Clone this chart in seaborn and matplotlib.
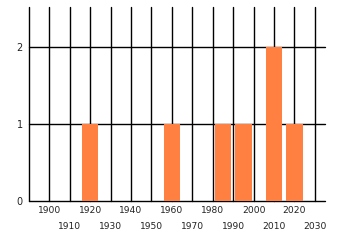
import matplotlib
matplotlib.use("Agg")
import matplotlib.pyplot as plt
import seaborn as sns
import pandas as pd

years = [1920, 1960, 1985, 1995, 2010, 2020]
counts = [1, 1, 1, 1, 2, 1]
upper_ticks = list(range(1900, 2021, 20))
lower_ticks = list(range(1890, 2031, 20))
y_ticks = [0, 1, 2]

sns.set_theme(style="white")
plt.rcParams['font.family'] = ['DejaVu Sans']

df = pd.DataFrame({"year": years, "count": counts})

fig = plt.figure(figsize=(3.4, 2.45), dpi=100)
ax = fig.add_axes([29/340, 1-200.7/245, (325-29)/340, (200.7-7)/245])

sns.barplot(data=df, x="year", y="count", native_scale=True, width=0.8,
            color="#ff8040", saturation=1, ax=ax, zorder=3,
            edgecolor="none", linewidth=0)

ax.set_xlim(1890, 2035)
ax.set_ylim(0, 2.52)
ax.set_xticks(upper_ticks)
ax.set_xticklabels([str(t) for t in upper_ticks])
ax.set_xticks(lower_ticks, minor=True)
ax.set_xticklabels(["" if t == 1890 else str(t) for t in lower_ticks], minor=True)
ax.set_yticks(y_ticks)
ax.set_yticklabels([str(t) for t in y_ticks])

ax.tick_params(axis="x", which="major", length=0, pad=3.5, labelsize=6.6, colors="#222222")
ax.tick_params(axis="x", which="minor", length=0, pad=15, labelsize=6.6, colors="#222222")
ax.tick_params(axis="y", length=0, pad=4.5, labelsize=7, colors="#222222")

ax.grid(True, which="both", axis="x", color="black", linewidth=1.0)
ax.grid(True, which="major", axis="y", color="black", linewidth=1.0)
ax.set_axisbelow(True)
for ln in ax.get_xgridlines() + ax.get_ygridlines() + ax.xaxis.get_minorticklines():
    ln.set_clip_on(False)
for t in ax.xaxis.get_minor_ticks():
    t.gridline.set_clip_on(False)
for s in ax.spines.values():
    s.set_visible(False)
ax.set_xlabel("")
ax.set_ylabel("")

fig.savefig("out.png", dpi=100)
